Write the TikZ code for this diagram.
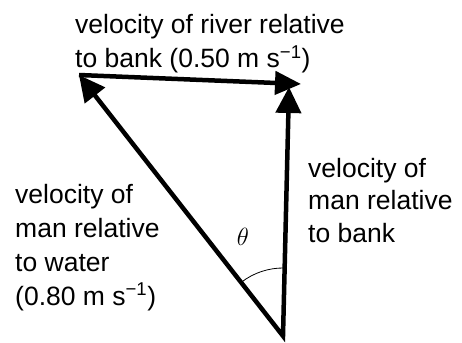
\documentclass[tikz,border=0pt]{standalone}
\usepackage{fontspec}
\setmainfont{Liberation Sans}
\usetikzlibrary{arrows.meta}

\begin{document}
\begin{tikzpicture}[x=1pt, y=-1pt, vec/.style={line width=4.5pt, line join=miter}, lbl/.style={align=left, inner sep=0pt, font=\fontsize{26.5}{34}\selectfont}]
\useasboundingbox (0,0) rectangle (462,342);
\coordinate (O) at (283,336);
\coordinate (A) at (79,75);
\coordinate (B) at (301,84);
\coordinate (Bv) at (289,87);
\draw[vec, {Triangle[length=26pt, width=25pt]}-{Triangle[length=26pt, width=25pt]}] (A) -- (O) -- (Bv);
\draw[vec, -{Triangle[length=26pt, width=23pt]}] (A) -- (B);
% angle theta
\draw[line width=0.8pt] (O) ++(-128:68) arc[start angle=-128, end angle=-89, radius=68];
\node[font=\fontsize{32}{32}\selectfont] (th) at (243,237) {$\theta$};
\node[lbl, anchor=base west] (river) at (75,68) {velocity of river relative\\to bank (0.50 m s\textsuperscript{\char"2212 1})};
\node[lbl, anchor=base west] (water) at (15,305) {velocity of\\man relative\\to water\\(0.80 m s\textsuperscript{\char"2212 1})};
\node[lbl, anchor=base west, font=\fontsize{26.5}{32.5}\selectfont] (bank) at (308,242) {velocity of\\man relative\\to bank};
\end{tikzpicture}
\end{document}
